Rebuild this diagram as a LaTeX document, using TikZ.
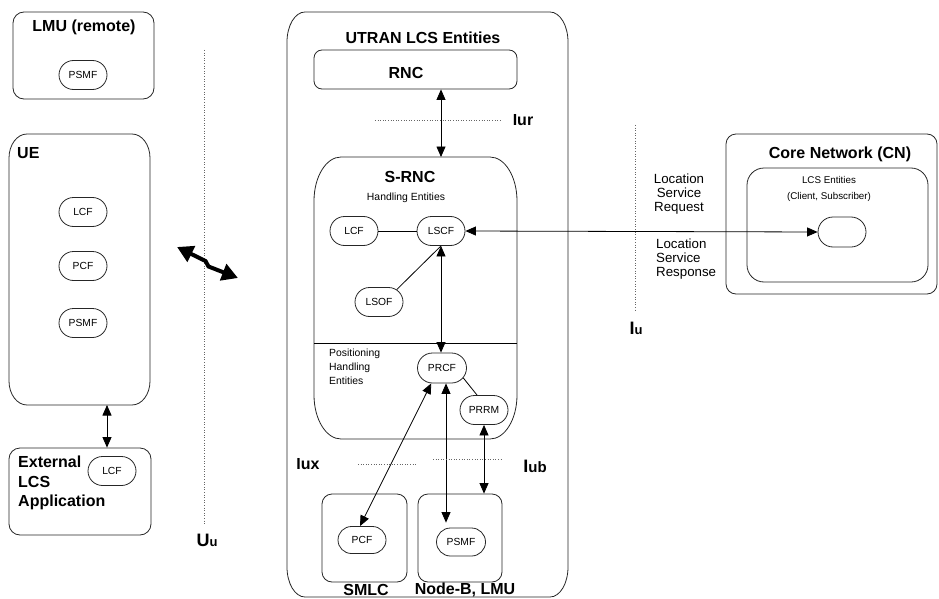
\documentclass[tikz,border=0pt]{standalone}
\usepackage{fontspec}
\setmainfont{Liberation Sans}
\usetikzlibrary{shapes.misc,arrows.meta}
\newcommand{\ellbox}[3]{%
 \draw[boxline] ([xshift=#2]#1.north west) -- ([xshift=-#2]#1.north east)
  arc[start angle=90,end angle=0,x radius=#2,y radius=#3]
  -- ([yshift=#3]#1.south east)
  arc[start angle=0,end angle=-90,x radius=#2,y radius=#3]
  -- ([xshift=#2]#1.south west)
  arc[start angle=270,end angle=180,x radius=#2,y radius=#3]
  -- ([yshift=-#3]#1.north west)
  arc[start angle=180,end angle=90,x radius=#2,y radius=#3] -- cycle;}
\tikzset{
 boxline/.style={line width=0.8pt, draw=black!85},
 pill/.style={draw, boxline, rounded rectangle, minimum width=48pt, minimum height=29pt, inner sep=0pt, font=\fontsize{10.3}{12}\selectfont},
 box/.style={draw, boxline, rounded corners=11pt, inner sep=0pt},
 frame/.style={inner sep=0pt, outer sep=0pt},
 title/.style={font=\fontsize{16}{19.5}\selectfont\bfseries, inner sep=0pt},
 small/.style={font=\fontsize{10.4}{14}\selectfont, inner sep=0pt},
 med/.style={font=\fontsize{13.3}{13.8}\selectfont, inner sep=0pt},
 tip/.tip={Triangle[length=10.5pt,width=9pt]},
 dbl/.style={tip-tip, line width=0.8pt},
 sgl/.style={-tip, line width=0.8pt},
 plain/.style={line width=0.8pt},
 ifc/.style={dotted, line width=0.6pt, draw=black!60},
}
\begin{document}
\begin{tikzpicture}[x=1pt,y=1pt]
\useasboundingbox (0,0) rectangle (939,-599);

% ---------- LMU (remote)
\node[box, minimum width=141pt, minimum height=87pt] (lmu) at (83.5,-55.5) {};
\node[title] (lmut) at (84,-27) {LMU (remote)};
\node[pill] (lmupsmf) at (83,-75) {PSMF};

% ---------- UE
\node[frame, minimum width=141pt, minimum height=271pt] (ue) at (79.5,-269.5) {};
\ellbox{ue}{18pt}{24pt}
\node[title, anchor=west] (uet) at (17,-153) {UE};
\node[pill] (uelcf) at (83,-212) {LCF};
\node[pill] (uepcf) at (83,-266) {PCF};
\node[pill] (uepsmf) at (83,-323) {PSMF};

% ---------- External LCS Application
\node[box, minimum width=142pt, minimum height=87pt] (ext) at (80,-491.5) {};
\node[title, anchor=west, align=left] (extt) at (18,-483) {External\\LCS\\Application};
\node[pill] (extlcf) at (112,-471) {LCF};
\draw[dbl] ([xshift=27.5pt]ue.south) -- ([xshift=27pt]ext.north);

% ---------- Uu
\draw[ifc] (204,-50) coordinate (uua) -- (204,-525) coordinate (uub);
\node[inner sep=0pt, font=\bfseries] (uul) at (207,-540) {\fontsize{18}{20}\selectfont U\fontsize{13}{15}\selectfont u};
\coordinate (z1) at (177,-247);
\coordinate (z2) at (238,-278);
\draw[line width=4pt, {Triangle[length=16pt,width=17pt]}-{Triangle[length=16pt,width=17pt]}] (z1) -- (205.5,-261) -- (208.5,-266.5) -- (z2);

% ---------- UTRAN
\node[frame, minimum width=281pt, minimum height=585pt] (utran) at (427.5,-304.5) {};
\ellbox{utran}{18pt}{30pt}
\node[title] (utrant) at (423,-38) {UTRAN LCS Entities};
\node[box, rounded corners=8pt, minimum width=203pt, minimum height=39pt] (rnc) at (415.5,-69.5) {};
\node[title] (rnct) at (406,-73) {RNC};

% S-RNC
\node[frame, minimum width=203pt, minimum height=282pt] (srnc) at (415.5,-298) {};
\ellbox{srnc}{27pt}{44pt}
\node[title] (srnct) at (410,-177) {S-RNC};
\node[small] (het) at (406,-198) {Handling Entities};
\draw[plain] (srnc.west |- 0,-343) -- (srnc.east |- 0,-343);
\node[small, anchor=north west, align=left] (phe) at (329,-349) {Positioning\\Handling\\Entities};

\draw[dbl] ([xshift=25.5pt]rnc.south) -- ([xshift=25.5pt]srnc.north);
\draw[ifc] (375,-120) -- (502,-120);
\node[title] (iur) at (523,-120) {Iur};

\node[pill] (lcf) at (354,-231) {LCF};
\node[pill] (lscf) at (441,-231) {LSCF};
\node[pill] (lsof) at (379,-302) {LSOF};
\node[pill, minimum height=30pt, minimum width=49pt] (prcf) at (442,-368) {PRCF};
\node[pill] (prrm) at (484,-410) {PRRM};

\draw[plain] (lcf.east) -- (lscf.west);
\draw[plain] (lsof.35) -- (lscf.south);
\draw[dbl] (lscf.south) -- (lscf.south |- prcf.north);
\draw[plain] (prcf.-25) -- (prrm.115);

% SMLC, Node-B
\node[box, rounded corners=10pt, minimum width=85pt, minimum height=88pt] (smlc) at (364.5,-538) {};
\node[box, rounded corners=10pt, minimum width=84pt, minimum height=88pt] (nodeb) at (460,-538) {};
\node[pill, minimum height=27pt] (pcf) at (362,-540) {PCF};
\node[pill, minimum height=28pt, minimum width=49pt] (psmf) at (461,-542) {PSMF};
\node[title] (smlct) at (366,-590) {SMLC};
\node[title] (nodebt) at (465,-590) {Node-B, LMU};

\draw[dbl] (prcf.235) -- ([xshift=-2pt]pcf.north);
\draw[dbl] ([xshift=4pt]prcf.south) -- ([xshift=4pt, yshift=5pt]prcf.south |- psmf.north);
\draw[dbl] (prrm.south) -- (prrm.south |- nodeb.north);

\draw[ifc] (358,-464) -- (417,-464);
\node[title] (iux) at (308,-464) {Iux};
\draw[ifc] (433,-459) -- (501,-459);
\node[inner sep=0pt, font=\bfseries] (iub) at (535,-466) {\fontsize{18}{20}\selectfont I\fontsize{15}{16}\selectfont ub};

% ---------- Iu
\draw[ifc] (635,-125) -- (635,-310);
\node[inner sep=0pt, font=\bfseries] (iul) at (636,-328) {\fontsize{18}{20}\selectfont I\fontsize{13}{15}\selectfont u};

% ---------- Core Network
\node[box, rounded corners=10pt, minimum width=211pt, minimum height=160pt] (cn) at (831.5,-214) {};
\node[title] (cnt) at (840,-154) {Core Network (CN)};
\node[box, rounded corners=17pt, minimum width=181pt, minimum height=114pt] (lcs) at (837.5,-225) {};
\node[inner sep=0pt, align=center, font=\fontsize{9.8}{16}\selectfont] (lcst) at (829,-189) {LCS Entities\\(Client, Subscriber)};
\node[pill, minimum height=30pt] (client) at (842,-232) {};

\draw[dbl] (lscf.east) -- (client.west);
\node[med, align=center] (lsreq) at (679,-194) {Location\\Service\\Request};
\node[med, align=left, anchor=west] (lsresp) at (656,-259) {Location\\Service\\Response};

\end{tikzpicture}
\end{document}
